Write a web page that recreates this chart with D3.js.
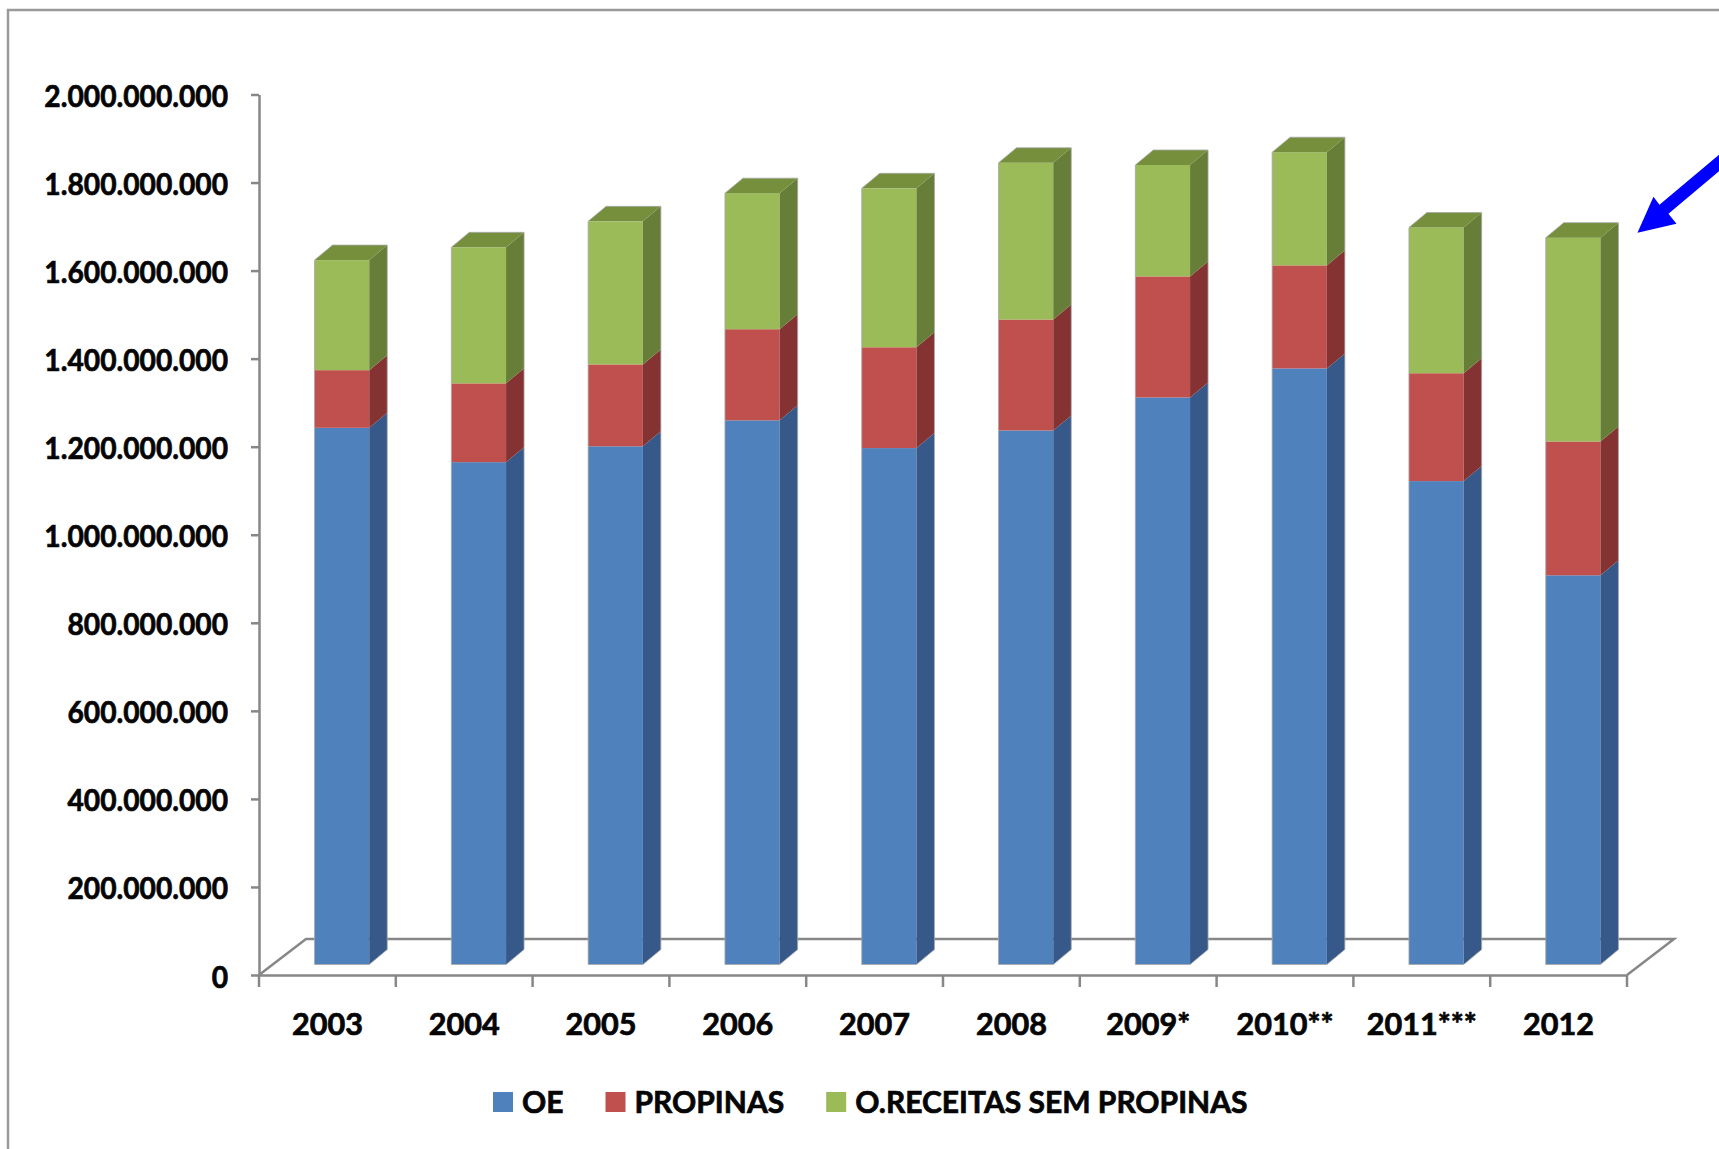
<!DOCTYPE html>
<html>
<head>
<meta charset="utf-8">
<script src="https://cdn.jsdelivr.net/npm/d3@7"></script>
<style>
  html, body { margin: 0; padding: 0; background: #ffffff; }
  svg { display: block; }
  text { font-family: Lato, "Open Sans", "Liberation Sans", sans-serif; font-weight: 700; fill: #050505; stroke: #050505; stroke-width: 0.7px; }
</style>
</head>
<body>
<svg id="chart" width="1719" height="1149"></svg>
<script>
// Receitas por ano (valores em milhões de euros)
const categories = ["2003", "2004", "2005", "2006", "2007", "2008", "2009*", "2010**", "2011***", "2012"];
const oeValues       = [1219, 1141, 1177, 1236, 1173, 1213, 1288, 1354, 1098, 884];
const propinasValues = [131, 179, 186, 207, 229, 252, 275, 234, 245, 304];
const outrasValues   = [250, 309, 325, 309, 361, 356, 253, 257, 331, 463];
const seriesNames = ["OE", "PROPINAS", "O.RECEITAS SEM PROPINAS"];
const yTickValues = [0, 2e8, 4e8, 6e8, 8e8, 1e9, 1.2e9, 1.4e9, 1.6e9, 1.8e9, 2e9];

// Face colours for each series: front, side, top
const palette = {
  "OE":                      { front: "#4F81BD", side: "#36598A", top: "#41699C" },
  "PROPINAS":                { front: "#C0504D", side: "#853332", top: "#9E3E3B" },
  "O.RECEITAS SEM PROPINAS": { front: "#9BBB59", side: "#677E38", top: "#758F3D" }
};

const rows = categories.map((c, i) => ({
  ano: c,
  "OE": oeValues[i] * 1e6,
  "PROPINAS": propinasValues[i] * 1e6,
  "O.RECEITAS SEM PROPINAS": outrasValues[i] * 1e6
}));

const svg = d3.select("#chart");
const W = 1719, H = 1149;

// Plot frame and pseudo-3D geometry
const plotLeft = 259, plotRight = 1627, plotBottom = 975, plotTop = 94.5;
const floorDX = 47, floorDY = 36;      // depth of the floor
const barDX = 18, barDY = 15;          // depth of each column
const offX = (floorDX - barDX) / 2, offY = (floorDY - barDY) / 2;
const axisColor = "#878787";
const yLabelScale = 0.94;
const xLabelScale = 1.02;
const legendScale = 1.0;

const x = d3.scaleBand().domain(categories).range([plotLeft, plotRight]).padding(0);
const y = d3.scaleLinear().domain([0, 2e9]).range([plotBottom, plotTop]);
const barW = x.bandwidth() * 0.4;

const stacked = d3.stack().keys(seriesNames)(rows);

// Outer frame
svg.append("rect")
  .attr("x", 8).attr("y", 10)
  .attr("width", W + 40).attr("height", H + 40)
  .attr("fill", "none").attr("stroke", "#9a9a9a").attr("stroke-width", 2.5);

// Floor (back edge and side edges)
svg.append("path")
  .attr("d", `M${plotLeft},${plotBottom}L${plotLeft + floorDX},${plotBottom - floorDY}L${plotRight + floorDX},${plotBottom - floorDY}L${plotRight},${plotBottom}`)
  .attr("fill", "none").attr("stroke", axisColor).attr("stroke-width", 2.5);

// Columns
const barsG = svg.append("g");
stacked.forEach(layer => {
  const key = layer.key;
  const col = palette[key];
  const isTop = key === seriesNames[seriesNames.length - 1];
  layer.forEach((d, i) => {
    const cat = categories[i];
    const x0 = x(cat) + (x.bandwidth() - barW) / 2 + offX;
    const yT = y(d[1]) - offY;
    const yB = y(d[0]) - offY;
    const g = barsG.append("g");
    g.append("rect")
      .attr("x", x0).attr("y", yT)
      .attr("width", barW).attr("height", yB - yT)
      .attr("fill", col.front);
    g.append("path")
      .attr("d", `M${x0 + barW},${yT}L${x0 + barW + barDX},${yT - barDY}L${x0 + barW + barDX},${yB - barDY}L${x0 + barW},${yB}Z`)
      .attr("fill", col.side);
    if (isTop) {
      g.append("path")
        .attr("d", `M${x0},${yT}L${x0 + barDX},${yT - barDY}L${x0 + barW + barDX},${yT - barDY}L${x0 + barW},${yT}Z`)
        .attr("fill", col.top);
    }
  });
});

// Thin grey outline around each column
rows.forEach((r, i) => {
  const total = seriesNames.reduce((s, k) => s + r[k], 0);
  const x0 = x(categories[i]) + (x.bandwidth() - barW) / 2 + offX;
  const yT = y(total) - offY, yB = y(0) - offY;
  barsG.append("path")
    .attr("d", `M${x0},${yB}L${x0},${yT}L${x0 + barDX},${yT - barDY}L${x0 + barW + barDX},${yT - barDY}L${x0 + barW + barDX},${yB - barDY}L${x0 + barW},${yB}Z`)
    .attr("fill", "none").attr("stroke", "#a8a8a8").attr("stroke-width", 1).attr("stroke-opacity", 0.8);
});

// Y axis with Portuguese number format
const pt = d3.formatLocale({ decimal: ",", thousands: ".", grouping: [3], currency: ["", " €"] });
const fmt = pt.format(",d");
const yAxis = svg.append("g")
  .attr("transform", `translate(${plotLeft},0)`)
  .call(d3.axisLeft(y).tickValues(yTickValues).tickFormat(fmt).tickSize(8).tickSizeOuter(0));
yAxis.attr("font-family", null).attr("font-size", null);
yAxis.select(".domain").attr("stroke", axisColor).attr("stroke-width", 2.5).attr("fill", "none");
yAxis.selectAll(".tick line").attr("stroke", axisColor).attr("stroke-width", 2.5);
yAxis.selectAll(".tick text")
  .attr("x", 0).attr("dy", null)
  .attr("transform", `translate(-31,12) scale(${yLabelScale},1)`)
  .attr("font-size", 30)
  .attr("fill", null);

// X axis: front floor edge, boundary ticks and category labels
const xAxis = svg.append("g")
  .attr("transform", `translate(0,${plotBottom})`)
  .call(d3.axisBottom(x).tickSize(0).tickSizeOuter(0));
xAxis.attr("font-family", null).attr("font-size", null);
xAxis.select(".domain").attr("stroke", axisColor).attr("stroke-width", 2.5).attr("fill", "none");
xAxis.selectAll(".tick text")
  .attr("y", 60).attr("dy", null)
  .attr("transform", `scale(${xLabelScale},1)`)
  .attr("font-size", 30)
  .attr("fill", null);
const bounds = categories.map(c => x(c)).concat([x.range()[1]]);
xAxis.selectAll(".bound").data(bounds).join("line")
  .attr("class", "bound")
  .attr("x1", d => d).attr("x2", d => d)
  .attr("y1", 0).attr("y2", 12)
  .attr("stroke", axisColor).attr("stroke-width", 2.5);

// Legend
const legend = svg.append("g").attr("transform", "translate(0,1113)");
let lx = 493;
seriesNames.forEach(name => {
  legend.append("rect")
    .attr("x", lx).attr("y", -21)
    .attr("width", 20).attr("height", 20)
    .attr("fill", palette[name].front);
  const t = legend.append("text")
    .attr("transform", `translate(${lx + 29},0) scale(${legendScale},1)`)
    .attr("font-size", 30)
    .text(name);
  lx += 29 + t.node().getComputedTextLength() * legendScale + 42;
});

// Arrow pointing at the last column
const last = categories.length - 1;
const lastTotal = seriesNames.reduce((s, k) => s + rows[last][k], 0);
const tipX = x(categories[last]) + (x.bandwidth() - barW) / 2 + offX + barW + barDX + 19;
const tipY = y(lastTotal) - offY - barDY + 10;
svg.append("path")
  .attr("transform", `translate(${tipX},${tipY})`)
  .attr("d", "M0,0L16,-36L22,-28L114,-105L123,-96L31,-19L39,-9Z")
  .attr("fill", "#0000FF");
</script>
</body>
</html>
